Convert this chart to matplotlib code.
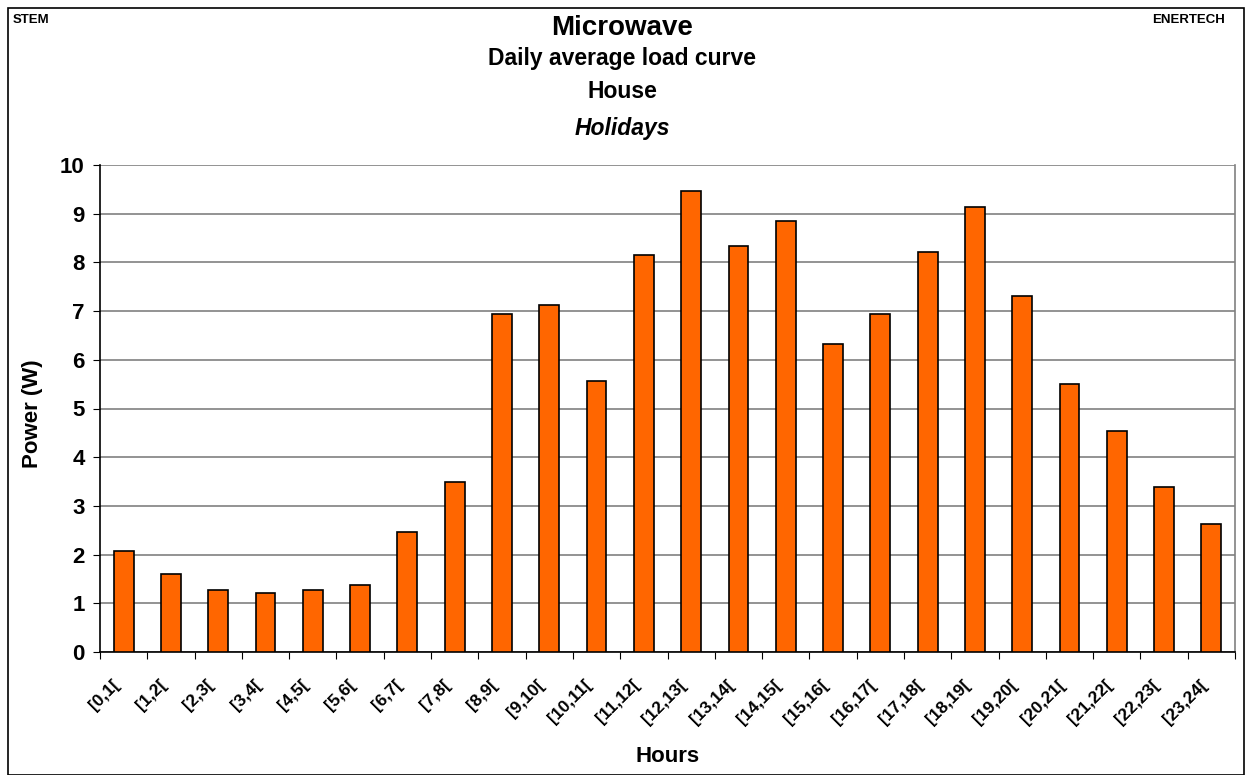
import numpy as np
import matplotlib
matplotlib.use("Agg")
import matplotlib.pyplot as plt
import matplotlib.transforms as mtransforms
from matplotlib.patches import Rectangle

plt.rcParams['font.family'] = ['Liberation Sans', 'DejaVu Sans']

hours = ["[0,1[", "[1,2[", "[2,3[", "[3,4[", "[4,5[", "[5,6[", "[6,7[", "[7,8[",
         "[8,9[", "[9,10[", "[10,11[", "[11,12[", "[12,13[", "[13,14[", "[14,15[",
         "[15,16[", "[16,17[", "[17,18[", "[18,19[", "[19,20[", "[20,21[",
         "[21,22[", "[22,23[", "[23,24["]
power = [2.07, 1.60, 1.27, 1.21, 1.27, 1.38, 2.47, 3.50, 6.95, 7.13, 5.57, 8.15,
         9.47, 8.33, 8.85, 6.32, 6.95, 8.22, 9.13, 7.30, 5.51, 4.53, 3.39, 2.63]

fig = plt.figure(figsize=(12.45, 7.75), dpi=100)
ax = fig.add_axes([100 / 1245, 1 - 652 / 775, 1135 / 1245, 487 / 775])

x = np.arange(len(hours))
ax.bar(x, power, width=0.42, color="#FF6600", edgecolor="black", linewidth=1.2, zorder=3)

ax.set_xlim(-0.5, len(hours) - 0.5)
ax.set_ylim(0, 10)
ax.set_yticks(range(0, 11))
ax.yaxis.grid(True, color="#808080", linewidth=1.2, zorder=0)
ax.set_xticks(np.arange(len(hours) + 1) - 0.5, minor=False)
ax.set_xticklabels([])
ax.set_xticks(x, minor=True)
ax.set_xticklabels(hours, minor=True, rotation=45, ha="right", va="center",
                   rotation_mode="anchor", fontsize=12.5, fontweight="bold")
ax.tick_params(axis="x", which="minor", length=0, pad=22)
ax.tick_params(axis="x", which="major", length=5, direction="out", color="black")
ax.tick_params(axis="y", length=5, direction="out", labelsize=16, pad=6)
for lbl in ax.get_yticklabels():
    lbl.set_fontweight("bold")

# nudge rotated hour labels slightly left
shift = mtransforms.ScaledTranslation(-5 / 72, 0, fig.dpi_scale_trans)
for lbl in ax.get_xticklabels(minor=True):
    lbl.set_transform(lbl.get_transform() + shift)

for s in ["top", "right"]:
    ax.spines[s].set_visible(False)
ax.spines["left"].set_linewidth(1.2)
ax.spines["bottom"].set_linewidth(1.2)
ax.plot([1, 1], [0, 1], transform=ax.transAxes, color="#808080", lw=1.2, clip_on=False)

ax.set_ylabel("Power (W)", fontsize=16, fontweight="bold")
ax.yaxis.set_label_coords(-0.05, 0.49)
ax.set_xlabel("Hours", fontsize=16, fontweight="bold", va="center")
ax.xaxis.set_label_coords(0.5, (652 - 757) / 487)

fig.text(0.5, 1 - 28 / 775, "Microwave", ha="center", va="center", fontsize=20, fontweight="bold")
fig.text(0.5, 1 - 58 / 775, "Daily average load curve", ha="center", va="center", fontsize=16.5, fontweight="bold")
fig.text(0.5, 1 - 91 / 775, "House", ha="center", va="center", fontsize=16.5, fontweight="bold")
fig.text(0.5, 1 - 128 / 775, "Holidays", ha="center", va="center", fontsize=16.5,
         fontweight="bold", fontstyle="italic")
fig.text(13 / 1245, 1 - 20 / 775, "STEM", ha="left", va="center", fontsize=9.5, fontweight="bold")
fig.text(1225 / 1245, 1 - 20 / 775, "ENERTECH", ha="right", va="center", fontsize=9.5, fontweight="bold")

fig.patches.append(Rectangle((8 / 1245, 0), 1 - 9 / 1245, 1 - 8 / 775, transform=fig.transFigure,
                             fill=False, edgecolor="black", linewidth=1.2))

fig.savefig("out.png", dpi=100)
